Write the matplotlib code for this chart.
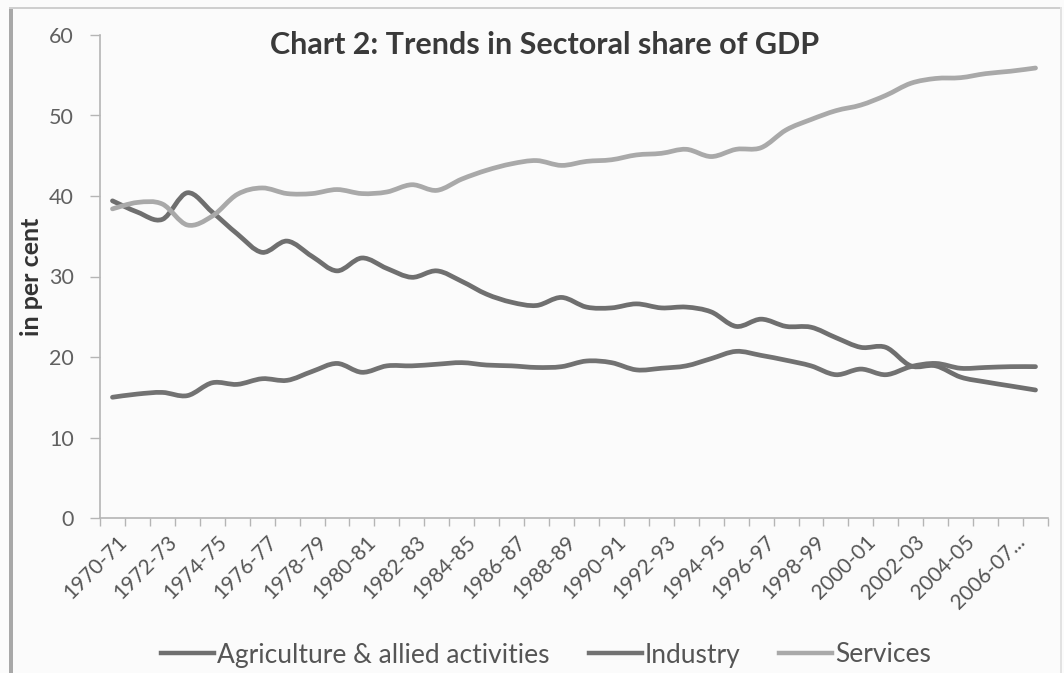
import matplotlib
matplotlib.use("Agg")
import matplotlib.pyplot as plt
from matplotlib.path import Path
from matplotlib.patches import PathPatch, Rectangle
from matplotlib.lines import Line2D
import numpy as np

# ---------------- data ----------------
categories = ["1970-71", "1971-72", "1972-73", "1973-74", "1974-75", "1975-76",
              "1976-77", "1977-78", "1978-79", "1979-80", "1980-81", "1981-82",
              "1982-83", "1983-84", "1984-85", "1985-86", "1986-87", "1987-88",
              "1988-89", "1989-90", "1990-91", "1991-92", "1992-93", "1993-94",
              "1994-95", "1995-96", "1996-97", "1997-98", "1998-99", "1999-00",
              "2000-01", "2001-02", "2002-03", "2003-04", "2004-05", "2005-06",
              "2006-07...", "2007-08"]

agriculture = [39.4, 38.0, 37.1, 40.4, 38.0, 35.3, 33.0, 34.4, 32.5, 30.7,
               32.3, 31.0, 29.9, 30.7, 29.4, 27.8, 26.8, 26.4, 27.4, 26.2,
               26.1, 26.6, 26.1, 26.2, 25.6, 23.8, 24.7, 23.8, 23.7, 22.4,
               21.2, 21.2, 18.9, 18.9, 17.5, 16.9, 16.4, 15.9]

industry = [15.0, 15.4, 15.6, 15.2, 16.8, 16.6, 17.3, 17.1, 18.2, 19.2,
            18.1, 18.9, 18.9, 19.1, 19.3, 19.0, 18.9, 18.7, 18.8, 19.5,
            19.3, 18.4, 18.6, 18.9, 19.8, 20.7, 20.2, 19.6, 18.9, 17.8,
            18.5, 17.8, 18.8, 19.2, 18.6, 18.7, 18.8, 18.8]

services = [38.4, 39.2, 39.0, 36.4, 37.5, 40.2, 41.0, 40.3, 40.3, 40.8,
            40.3, 40.5, 41.4, 40.7, 42.1, 43.2, 44.0, 44.4, 43.8, 44.3,
            44.5, 45.1, 45.3, 45.8, 44.9, 45.8, 46.0, 48.2, 49.5, 50.6,
            51.3, 52.5, 54.0, 54.6, 54.7, 55.2, 55.5, 55.9]

series_names = ["Agriculture & allied activities", "Industry", "Services"]
series_colors = ["#6f6f6f", "#727272", "#a9a9a9"]

FONT = ["Lato", "DejaVu Sans"]
plt.rcParams["font.family"] = FONT


def smooth_path(xs, ys):
    """Excel-like smoothed line: cubic Bezier through every data point."""
    pts = np.column_stack([xs, ys]).astype(float)
    n = len(pts)
    verts = [pts[0]]
    codes = [Path.MOVETO]
    for i in range(n - 1):
        p0 = pts[i - 1] if i > 0 else pts[i]
        p1 = pts[i]
        p2 = pts[i + 1]
        p3 = pts[i + 2] if i + 2 < n else pts[i + 1]
        c1 = p1 + (p2 - p0) / 6.0
        c2 = p2 - (p3 - p1) / 6.0
        verts += [c1, c2, p2]
        codes += [Path.CURVE4] * 3
    return Path(verts, codes)


fig = plt.figure(figsize=(10.64, 6.73), dpi=100)
fig.patch.set_facecolor("#fbfbfb")

# screenshot frame
fig.add_artist(Rectangle((0.0085, 0.0), 0.0035, 0.99, transform=fig.transFigure,
                         facecolor="#a8a8a8", edgecolor="none"))
fig.add_artist(Rectangle((0.0085, 0.986), 0.99, 0.004, transform=fig.transFigure,
                         facecolor="#cfcfcf", edgecolor="none"))
fig.add_artist(Rectangle((0.9965, 0.0), 0.002, 0.99, transform=fig.transFigure,
                         facecolor="#e2e2e2", edgecolor="none"))

ax = fig.add_axes([100 / 1064, 1 - 518 / 673, 948 / 1064, (518 - 35) / 673])
ax.set_facecolor("#fbfbfb")

x = np.arange(len(categories))
for vals, name, col in zip([agriculture, industry, services], series_names, series_colors):
    ax.add_patch(PathPatch(smooth_path(x, vals), facecolor="none", edgecolor=col,
                           lw=3.4, capstyle="round", joinstyle="round", zorder=3))

ax.set_xlim(-0.5, len(categories) - 0.5)
ax.set_ylim(0, 60)
ax.set_yticks([0, 10, 20, 30, 40, 50, 60])

# x labels on every second category (anchored slightly right of centre),
# tick marks on category boundaries
label_idx = x[::2]
ax.set_xticks(label_idx + 0.45)
ax.set_xticklabels([categories[i] for i in label_idx], rotation=45, ha="right",
                   va="center", rotation_mode="anchor", fontsize=15, color="#555555")
ax.set_xticks(np.arange(-0.5, len(categories)), minor=True)
ax.tick_params(axis="x", which="major", length=0, pad=15)
ax.tick_params(axis="x", which="minor", length=6, color="#b5b5b5", width=1)
ax.tick_params(axis="y", length=7, color="#b5b5b5", width=1, labelsize=15.5,
               labelcolor="#606060", pad=12)

for s in ["top", "right"]:
    ax.spines[s].set_visible(False)
for s in ["left", "bottom"]:
    ax.spines[s].set_color("#b5b5b5")
    ax.spines[s].set_linewidth(1.2)

ax.set_ylabel("in per cent", fontsize=18, fontweight="bold", color="#333333")
ax.yaxis.set_label_coords((43 - 100) / 948, 0.5)

fig.text(545 / 1064, 1 - 45 / 673, "Chart 2: Trends in Sectoral share of GDP",
         ha="center", va="center", fontsize=22, fontweight="bold", color="#3a3a3a")

handles = [Line2D([0], [0], color=c, lw=3.2) for c in series_colors]
leg = fig.legend(handles, series_names, loc="center", bbox_to_anchor=(546 / 1064, 1 - 655 / 673),
                 ncol=3, frameon=False, fontsize=19, handlelength=2.0, handletextpad=0.1,
                 columnspacing=1.5, labelcolor="#555555")

fig.savefig("out.png", dpi=100, facecolor=fig.get_facecolor())
